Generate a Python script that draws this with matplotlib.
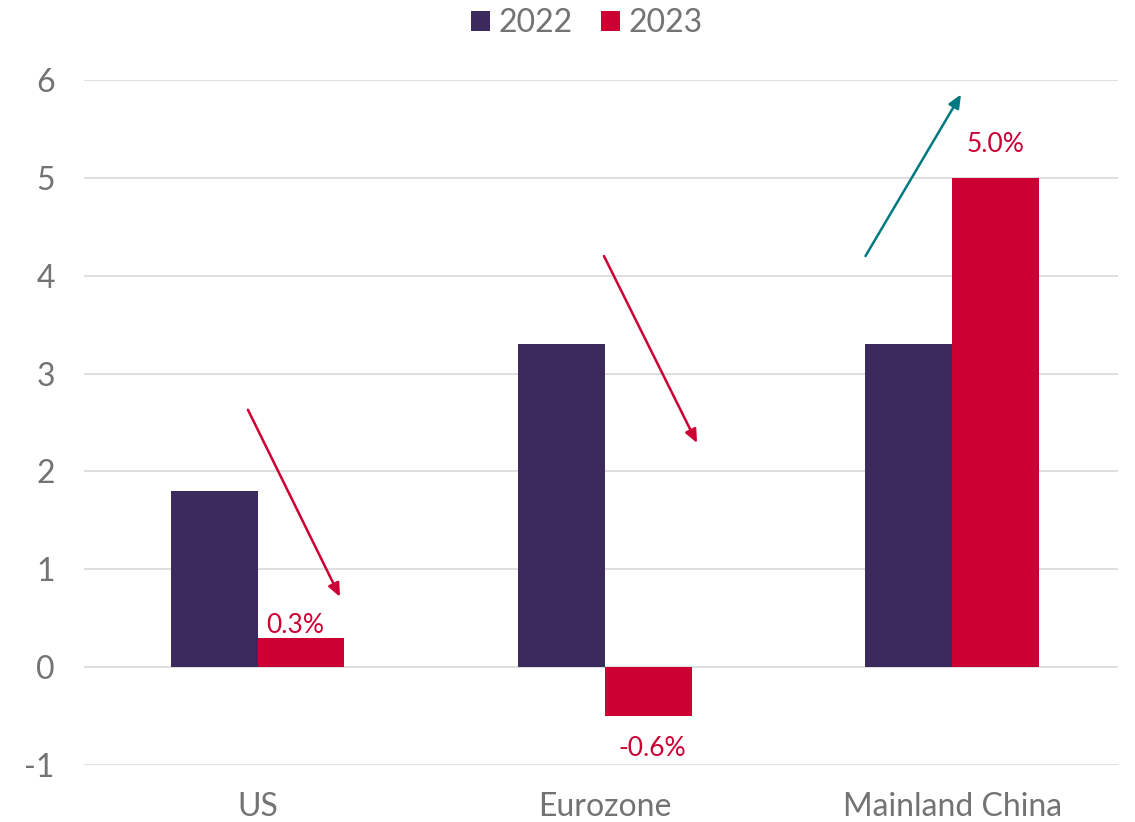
import numpy as np
import matplotlib.pyplot as plt

regions = ["US", "Eurozone", "Mainland China"]
growth_2022 = [1.8, 3.3, 3.3]
growth_2023 = [0.3, -0.5, 5.0]
labels_2023 = ["0.3%", "-0.6%", "5.0%"]

# label nudges (dx, dy) in data units
label_offsets = [(-0.017, 0.13), (0.012, -0.33), (0.0, 0.34)]

# arrow (start, end) in data coords, one per region
arrows = [((-0.028, 2.63), (0.237, 0.72)),
          ((0.997, 4.20), (1.265, 2.29)),
          ((1.75, 4.20), (2.025, 5.85))]
arrow_colors = ["#CC0033", "#CC0033", "#007A80"]

purple = "#3C2A5C"
red = "#CC0033"
grey = "#737373"

plt.rcParams['font.family'] = ['Lato', 'DejaVu Sans']
plt.rcParams['axes.unicode_minus'] = False

fig = plt.figure(figsize=(11.35, 8.22), dpi=100)
ax = fig.add_axes([84 / 1135, 0.069, 1034 / 1135, 0.834])

x = np.arange(len(regions))
w = 0.25
ax.bar(x - w / 2, growth_2022, w, color=purple, label="2022", zorder=3)
ax.bar(x + w / 2, growth_2023, w, color=red, label="2023", zorder=3)

for xi, v, lab, (dx, dy) in zip(x, growth_2023, labels_2023, label_offsets):
    ax.text(xi + w / 2 + dx, v + dy, lab, ha='center', va='center',
            color=red, fontsize=19)

for (start, end), c in zip(arrows, arrow_colors):
    ax.annotate("", xy=end, xytext=start,
                arrowprops=dict(arrowstyle="-|>,head_length=0.8,head_width=0.35",
                                color=c, lw=1.8, shrinkA=0, shrinkB=0),
                zorder=4)

ax.set_xlim(-0.5, 2.477)
ax.set_ylim(-1, 6)
ax.set_yticks(range(-1, 7))
ax.set_xticks(x)
ax.set_xticklabels(regions)
ax.yaxis.grid(True, color="#D9D9D9", lw=1.2, zorder=0)
for s in ax.spines.values():
    s.set_visible(False)
ax.tick_params(axis='both', length=0, labelsize=23, colors=grey)
ax.tick_params(axis='x', pad=19)
ax.tick_params(axis='y', pad=21)

fig.legend(loc='upper center', bbox_to_anchor=(0.517, 1.025), ncol=2, frameon=False,
           fontsize=23, labelcolor=grey, handlelength=0.6, handleheight=0.6,
           handletextpad=0.25, columnspacing=0.9)

fig.savefig("out.png", dpi=100)
